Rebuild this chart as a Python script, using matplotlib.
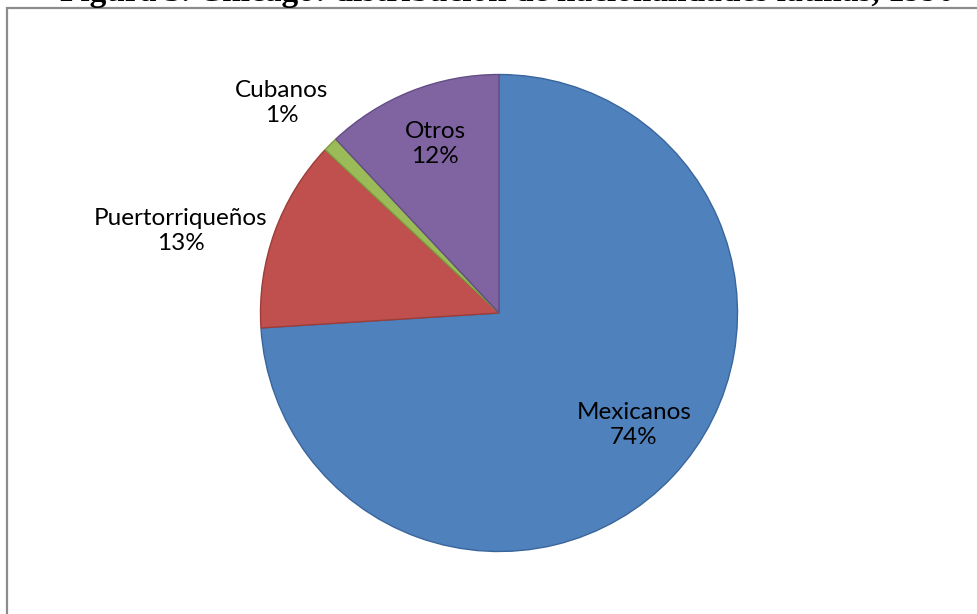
import matplotlib
matplotlib.use("Agg")
import matplotlib.pyplot as plt
from matplotlib.patches import Rectangle

# Data
categories = ["Mexicanos", "Puertorriqueños", "Cubanos", "Otros"]
shares = [74, 13, 1, 12]
pct_labels = ["74%", "13%", "1%", "12%"]

face_colors = ["#4F81BD", "#C0504D", "#9BBB59", "#8064A2"]
edge_colors = ["#3A669C", "#9C3D3A", "#7D9B40", "#634D84"]

W, H, DPI = 977, 614, 100
fig = plt.figure(figsize=(W / DPI, H / DPI), dpi=DPI)
fig.patch.set_facecolor("white")

# Pie geometry in pixels
cx, cy, R = 499.0, 313.0, 238.5

ax = fig.add_axes([0, 0, 1, 1])
ax.axis("off")

wedges, _ = ax.pie(
    shares,
    startangle=90,
    counterclock=False,
    colors=face_colors,
    radius=1.0,
    wedgeprops=dict(linewidth=1.0),
)
for w, ec in zip(wedges, edge_colors):
    w.set_edgecolor(ec)

# pie() resets the limits; place the unit circle at the chosen pixel centre
ax.set_aspect("auto")
ax.set_xlim(-cx / R, (W - cx) / R)
ax.set_ylim(-(H - cy) / R, cy / R)

# Label positions (pixel coordinates of label centres)
label_px = [(634, 425), (181, 231), (282, 103), (435, 144)]
font = ["Lato", "DejaVu Sans"]
for name, pct, (px, py) in zip(categories, pct_labels, label_px):
    ax.text((px - cx) / R, (cy - py) / R, f"{name}\n{pct}",
            ha="center", va="center", multialignment="center",
            fontsize=17.5, family=font, color="black", linespacing=1.25)

# Chart frame
frame = Rectangle((7 / W, -0.1), 1.2, (H - 7.5) / H + 0.1,
                  transform=fig.transFigure, fill=False,
                  edgecolor="#8c8c8c", linewidth=1.6, clip_on=False)
fig.patches.append(frame)

# Document caption above the chart (only its lowest pixels fall on the page)
fig.text(60 / W, 1 - 1.0 / H,
         "Figura 3. Chicago: distribución de nacionalidades latinas, 1990",
         ha="left", va="baseline", fontsize=24, fontweight="bold",
         family=["Liberation Serif", "DejaVu Serif"], color="black")

fig.savefig("out.png", dpi=DPI, facecolor="white")
